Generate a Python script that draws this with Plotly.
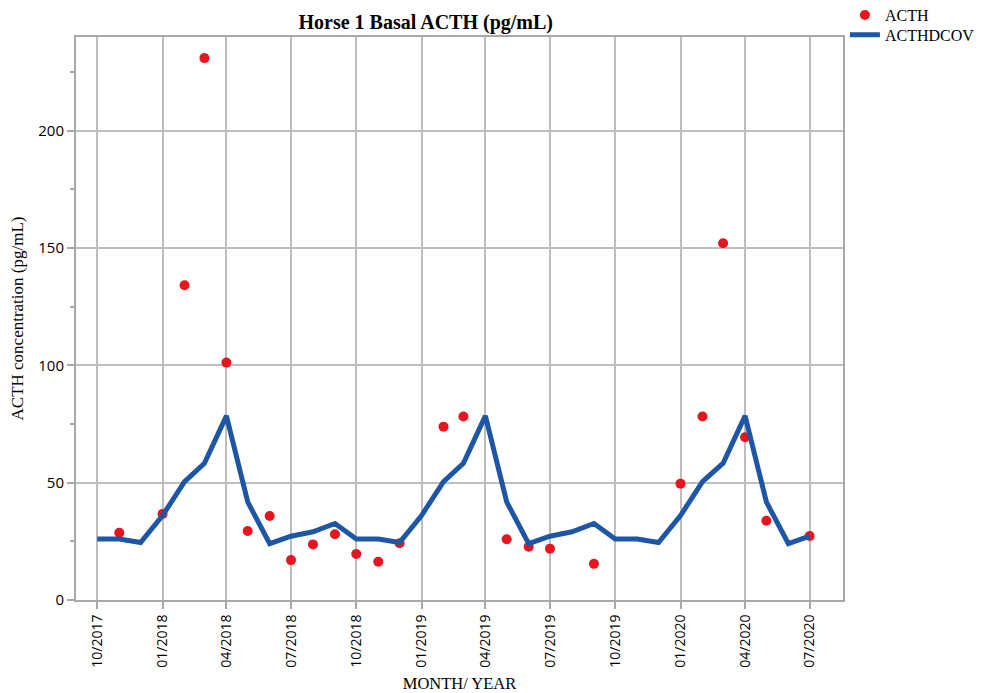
import plotly.graph_objects as go

# Monthly ACTHDCOV curve, 10/2017 through 07/2020
curve_months = [
    "2017-10-01", "2017-11-01", "2017-12-01",
    "2018-01-01", "2018-02-01", "2018-03-01", "2018-04-01", "2018-05-01", "2018-06-01",
    "2018-07-01", "2018-08-01", "2018-09-01", "2018-10-01", "2018-11-01", "2018-12-01",
    "2019-01-01", "2019-02-01", "2019-03-01", "2019-04-01", "2019-05-01", "2019-06-01",
    "2019-07-01", "2019-08-01", "2019-09-01", "2019-10-01", "2019-11-01", "2019-12-01",
    "2020-01-01", "2020-02-01", "2020-03-01", "2020-04-01", "2020-05-01", "2020-06-01",
    "2020-07-01",
]
acthdcov = [
    26, 26, 24.5,
    36, 50.5, 58.3, 78.5, 41.8, 24,
    27.2, 29.1, 32.6, 26, 26, 24.5,
    36, 50.5, 58.3, 78.5, 41.8, 24,
    27.2, 29.1, 32.6, 26, 26, 24.5,
    36, 50.5, 58.3, 78.5, 41.8, 24,
    27.2,
]

# Measured basal ACTH samples
sample_months = [
    "2017-11-01", "2018-01-01", "2018-02-01", "2018-03-01", "2018-04-01",
    "2018-05-01", "2018-06-01", "2018-07-01", "2018-08-01", "2018-09-01",
    "2018-10-01", "2018-11-01", "2018-12-01", "2019-02-01", "2019-03-01",
    "2019-05-01", "2019-06-01", "2019-07-01", "2019-09-01", "2020-01-01",
    "2020-02-01", "2020-03-01", "2020-04-01", "2020-05-01", "2020-07-01",
]
acth = [
    28.7, 36.7, 134.2, 231, 101.2,
    29.4, 35.8, 17, 23.7, 28,
    19.6, 16.3, 24.2, 73.9, 78.2,
    25.9, 22.7, 21.9, 15.4, 49.6,
    78.2, 152.1, 69.4, 33.8, 27.3,
]

y_ticks = [0, 50, 100, 150, 200]

grid_col = "#bdbdbd"
frame_col = "#a8a8a8"
serif = "Liberation Serif, DejaVu Serif, serif"
sans = "Open Sans, Noto Sans, sans-serif"

fig = go.Figure()
fig.add_trace(go.Scatter(
    x=sample_months, y=acth, mode="markers", name="ACTH",
    marker=dict(color="#e8141e", size=10), legend="legend",
))
fig.add_trace(go.Scatter(
    x=curve_months, y=acthdcov, mode="lines", name="ACTHDCOV",
    line=dict(color="#1d56a6", width=5), legend="legend2",
))

legend_style = dict(
    xanchor="left", yanchor="top",
    font=dict(family=serif, size=16, color="black"),
    bgcolor="rgba(0,0,0,0)", itemwidth=30,
)

fig.update_layout(
    width=984, height=693,
    margin=dict(l=76, r=141, t=37, b=93, autoexpand=False),
    paper_bgcolor="white", plot_bgcolor="white",
    title=dict(
        text="<b>Horse 1 Basal ACTH (pg/mL)</b>",
        x=0.456, xref="paper", xanchor="center",
        y=0.968, yref="container", yanchor="middle",
        font=dict(family=serif, size=20, color="black"),
    ),
    legend=dict(x=1.0025, y=1.069, **legend_style),
    legend2=dict(x=1.0025, y=1.034, **legend_style),
    showlegend=True,
)

fig.update_xaxes(
    type="date",
    range=["2017-09-01", "2020-08-17"],
    tick0="2017-10-01", dtick="M3", tickformat="%m/%Y",
    tickangle=-90,
    ticks="outside", ticklen=7, tickcolor=frame_col, tickwidth=1.5,
    showgrid=True, gridcolor=grid_col, gridwidth=1.5,
    showline=True, linecolor=frame_col, linewidth=2, mirror=True,
    tickfont=dict(family=sans, size=14, color="black"),
    title=dict(text="MONTH/ YEAR", font=dict(family=serif, size=16.5, color="black"), standoff=12),
    zeroline=False, automargin=False,
)
fig.update_yaxes(
    range=[0, 240],
    tickvals=y_ticks,
    ticks="outside", ticklen=7, tickcolor=frame_col, tickwidth=1.5,
    minor=dict(dtick=25, tick0=0, ticks="outside", ticklen=4, tickcolor=frame_col, showgrid=False),
    showgrid=True, gridcolor=grid_col, gridwidth=1.5,
    showline=True, linecolor=frame_col, linewidth=2, mirror=True,
    tickfont=dict(family=sans, size=15, color="black"),
    title=dict(text="ACTH concentration (pg/mL)", font=dict(family=serif, size=17, color="black"), standoff=10),
    zeroline=False, automargin=False,
)

fig.write_html("out.html")
